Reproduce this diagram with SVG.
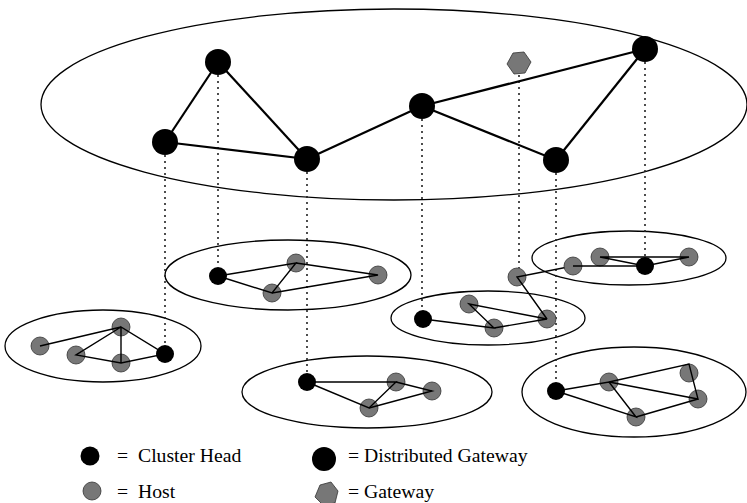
<svg xmlns="http://www.w3.org/2000/svg" width="747" height="503" viewBox="0 0 747 503">
  <style>
    .ring { fill: none; stroke: #000; stroke-width: 1.3; }
    .link { stroke: #000; stroke-width: 2.2; fill: none; }
    .thin { stroke: #000; stroke-width: 1.4; fill: none; }
    .drop { stroke: #222; stroke-width: 1.6; stroke-dasharray: 2 4; fill: none; }
    .dg { fill: #000; }
    .ch { fill: #000; }
    .host { fill: #777; stroke: #333; stroke-width: 0.8; }
    .gw { fill: #777; stroke: #333; stroke-width: 0.8; }
    .lbl { font-family: "Liberation Serif", "Times New Roman", serif; font-size: 19.7px; fill: #000; }
  </style>
  <rect width="747" height="503" fill="#fff"/>

  <!-- cluster regions -->
  <g id="regions">
    <ellipse class="ring" cx="394" cy="104.5" rx="353" ry="95.5"/>
    <ellipse class="ring" cx="103" cy="346" rx="98" ry="36"/>
    <ellipse class="ring" cx="288" cy="275" rx="123" ry="35"/>
    <ellipse class="ring" cx="367" cy="392" rx="125" ry="36"/>
    <ellipse class="ring" cx="488" cy="318" rx="97" ry="27"/>
    <ellipse class="ring" cx="629" cy="258" rx="97" ry="27"/>
    <ellipse class="ring" cx="634" cy="392" rx="112" ry="45"/>
  </g>

  <!-- connectors -->
  <g id="connectors">
    <!-- vertical projections -->
    <line class="drop" x1="165" y1="155" x2="165" y2="345"/>
    <line class="drop" x1="218" y1="75" x2="218" y2="267"/>
    <line class="drop" x1="307" y1="172" x2="307" y2="373"/>
    <line class="drop" x1="422" y1="119" x2="422" y2="311"/>
    <line class="drop" x1="519" y1="75" x2="519" y2="268"/>
    <line class="drop" x1="556" y1="173" x2="556" y2="382"/>
    <line class="drop" x1="645" y1="62" x2="645" y2="257"/>
    <!-- backbone links between distributed gateways -->
    <line class="link" x1="165" y1="142" x2="218" y2="62"/>
    <line class="link" x1="218" y1="62" x2="307" y2="159"/>
    <line class="link" x1="165" y1="142" x2="307" y2="159"/>
    <line class="link" x1="307" y1="159" x2="422" y2="106"/>
    <line class="link" x1="422" y1="106" x2="645" y2="49"/>
    <line class="link" x1="422" y1="106" x2="556" y2="160"/>
    <line class="link" x1="556" y1="160" x2="645" y2="49"/>
  </g>

  <!-- distributed gateways -->
  <g id="dg-1"><circle class="dg" cx="165" cy="142" r="13"/></g>
  <g id="dg-2"><circle class="dg" cx="218" cy="62" r="13"/></g>
  <g id="dg-3"><circle class="dg" cx="307" cy="159" r="13"/></g>
  <g id="dg-4"><circle class="dg" cx="422" cy="106" r="13"/></g>
  <g id="dg-5"><circle class="dg" cx="556" cy="160" r="13"/></g>
  <g id="dg-6"><circle class="dg" cx="645" cy="49" r="13"/></g>
  <g id="gateway-top"><polygon class="gw" points="507,64 513,53 524,52 531,62 525,73 514,74"/></g>

  <!-- cluster 1 (left) -->
  <g id="cluster-1">
    <circle class="host" cx="40" cy="346" r="9"/>
    <circle class="host" cx="121" cy="327" r="9"/>
    <circle class="host" cx="76" cy="355" r="9"/>
    <circle class="host" cx="121" cy="363" r="9"/>
    <circle class="ch" cx="165" cy="354" r="9"/>
    <polyline class="thin" points="40,346 121,327 76,355 121,363 165,354 121,327 121,363"/>
  </g>

  <!-- cluster 2 -->
  <g id="cluster-2">
    <circle class="ch" cx="218" cy="276" r="9"/>
    <circle class="host" cx="296" cy="263" r="9"/>
    <circle class="host" cx="272" cy="293" r="9"/>
    <circle class="host" cx="378" cy="275" r="9"/>
    <polyline class="thin" points="218,276 296,263 272,293 218,276"/>
    <polyline class="thin" points="296,263 378,275 272,293"/>
  </g>

  <!-- cluster 3 -->
  <g id="cluster-3">
    <circle class="ch" cx="307" cy="382" r="9"/>
    <circle class="host" cx="396" cy="382" r="9"/>
    <circle class="host" cx="432" cy="391" r="9"/>
    <circle class="host" cx="369" cy="408" r="9"/>
    <polyline class="thin" points="307,382 396,382 369,408 307,382"/>
    <polyline class="thin" points="396,382 432,391 369,408"/>
  </g>

  <!-- cluster 4 -->
  <g id="cluster-4">
    <circle class="ch" cx="423" cy="319" r="9"/>
    <circle class="host" cx="469" cy="304" r="9"/>
    <circle class="host" cx="494" cy="328" r="9"/>
    <circle class="host" cx="547" cy="319" r="9"/>
    <circle class="host" cx="517" cy="277" r="9"/>
    <polyline class="thin" points="423,319 494,328 469,304 547,319 494,328"/>
    <polyline class="thin" points="547,319 517,277 573,266"/>
  </g>

  <!-- cluster 5 -->
  <g id="cluster-5">
    <circle class="host" cx="573" cy="266" r="9"/>
    <circle class="host" cx="600" cy="257" r="9"/>
    <circle class="ch" cx="645" cy="266" r="9"/>
    <circle class="host" cx="689" cy="257" r="9"/>
    <line class="thin" x1="573" y1="266" x2="645" y2="266"/>
    <polyline class="thin" points="600,257 689,257 645,266 600,257"/>
  </g>

  <!-- cluster 6 -->
  <g id="cluster-6">
    <circle class="ch" cx="556" cy="391" r="9"/>
    <circle class="host" cx="609" cy="382" r="9"/>
    <circle class="host" cx="689" cy="373" r="9"/>
    <circle class="host" cx="698" cy="399" r="9"/>
    <circle class="host" cx="636" cy="417" r="9"/>
    <polyline class="thin" points="556,391 609,382 636,417 556,391"/>
    <polyline class="thin" points="609,382 689,364 698,399 609,382"/>
    <line class="thin" x1="636" y1="417" x2="698" y2="399"/>
  </g>

  <!-- legend -->
  <g id="legend">
    <circle class="ch" cx="90" cy="456" r="9.5"/>
    <text class="lbl" x="117" y="462">=<tspan x="138">Cluster Head</tspan></text>
    <circle class="dg" cx="324" cy="459" r="12"/>
    <text class="lbl" x="348" y="462">= Distributed Gateway</text>
    <circle class="host" cx="92" cy="491" r="9"/>
    <text class="lbl" x="117" y="498">=<tspan x="138">Host</tspan></text>
    <polygon class="gw" points="315,497 320,485 331,482 338,491 335,503 323,505"/>
    <text class="lbl" x="348" y="498">= Gateway</text>
  </g>
</svg>
